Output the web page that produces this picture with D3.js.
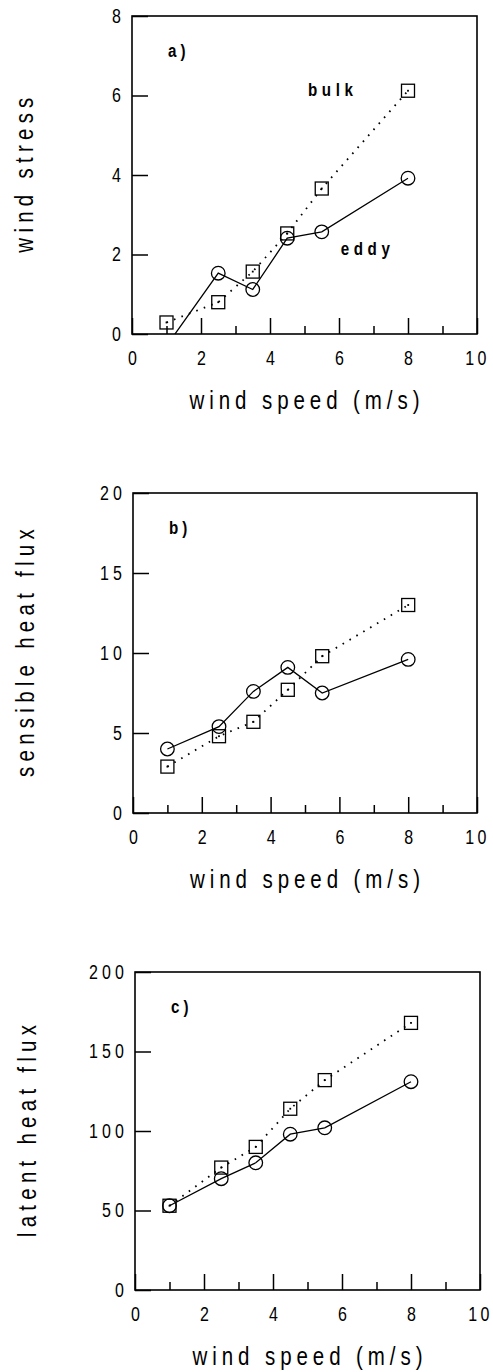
<!DOCTYPE html>
<html>
<head>
<meta charset="utf-8">
<script src="https://cdn.jsdelivr.net/npm/d3@7"></script>
<style>
  html, body { margin: 0; padding: 0; background: #fff; }
  svg { display: block; }
  text { font-family: "Liberation Sans", Arial, sans-serif; fill: #000; }
</style>
</head>
<body>
<svg id="chart" width="493" height="1372"></svg>
<script>
// ---- data ----
const windSpeed = [1, 2.5, 3.5, 4.5, 5.5, 8];

const stressBulk = [0.29, 0.80, 1.57, 2.53, 3.66, 6.12];
const stressEddy = [-0.30, 1.53, 1.12, 2.41, 2.57, 3.92];

const sensibleBulk = [2.9, 4.8, 5.7, 7.7, 9.8, 13.0];
const sensibleEddy = [4.0, 5.4, 7.6, 9.1, 7.5, 9.6];

const latentBulk = [53, 77, 90, 114, 132, 168];
const latentEddy = [53, 70, 80, 98, 102, 131];

const xTickValues = [0, 2, 4, 6, 8, 10];
const xMinorTicks = [1, 3, 5, 7, 9];
const stressTicks = [0, 2, 4, 6, 8];
const sensibleTicks = [0, 5, 10, 15, 20];
const latentTicks = [0, 50, 100, 150, 200];

const xTitle = "wind speed (m/s)";
const panelTitles = ["wind stress", "sensible heat flux", "latent heat flux"];
const panelLetters = ["a)", "b)", "c)"];
const seriesNames = ["bulk", "eddy"];

// ---- layout ----
const NARROW = 0.82;
const panels = [
  { left: 132, right: 477, top: 16,  bottom: 334,  bulk: stressBulk,   eddy: stressEddy,   ticks: stressTicks,   title: panelTitles[0], letter: panelLetters[0], legend: true },
  { left: 133, right: 477, top: 493, bottom: 813,  bulk: sensibleBulk, eddy: sensibleEddy, ticks: sensibleTicks, title: panelTitles[1], letter: panelLetters[1], legend: false },
  { left: 135, right: 480, top: 972, bottom: 1290, bulk: latentBulk,   eddy: latentEddy,   ticks: latentTicks,   title: panelTitles[2], letter: panelLetters[2], legend: false }
];

const svg = d3.select("#chart");

function narrowText(parent, x, y, txt, size, spacing, opts = {}) {
  const t = parent.append("text")
    .attr("transform", `translate(${x},${y})${opts.rotate ? " rotate(" + opts.rotate + ")" : ""} scale(${NARROW},1)`)
    .attr("font-size", size)
    .attr("letter-spacing", spacing + "px")
    .text(txt);
  if (opts.anchor) t.attr("text-anchor", opts.anchor);
  if (opts.bold) t.attr("font-weight", "bold");
  return t;
}

panels.forEach((p, i) => {
  const x = d3.scaleLinear().domain([0, 10]).range([p.left, p.right]);
  const y = d3.scaleLinear().domain([0, d3.max(p.ticks)]).range([p.bottom, p.top]);
  const g = svg.append("g");

  const clipId = "clip" + i;
  svg.append("clipPath").attr("id", clipId)
    .append("rect").attr("x", p.left).attr("y", p.top)
    .attr("width", p.right - p.left).attr("height", p.bottom - p.top);

  const tickFont = 19.5, tickSpace = 5;

  // x axis: major ticks (inside)
  const xAxis = g.append("g").attr("transform", `translate(0,${p.bottom})`)
    .call(d3.axisBottom(x).tickValues(xTickValues).tickFormat(d3.format("d"))
      .tickSizeInner(-16).tickSizeOuter(0).tickPadding(17));
  // x minor ticks
  const xMinor = g.append("g").attr("transform", `translate(0,${p.bottom})`)
    .call(d3.axisBottom(x).tickValues(xMinorTicks).tickFormat("")
      .tickSizeInner(-8).tickSizeOuter(0));
  // y axis
  const yAxis = g.append("g").attr("transform", `translate(${p.left},0)`)
    .call(d3.axisLeft(y).tickValues(p.ticks).tickFormat(d3.format("d"))
      .tickSizeInner(-16).tickSizeOuter(0).tickPadding(7));

  [xAxis, xMinor, yAxis].forEach(a => {
    a.attr("font-family", null).attr("font-size", null);
    a.select(".domain").remove();
    a.selectAll("line").attr("stroke", "#000").attr("stroke-width", 1.5);
    a.selectAll("text").attr("font-size", tickFont).attr("letter-spacing", tickSpace + "px")
      .style("fill", "#000").attr("transform", `scale(${NARROW},1)`);
  });
  xAxis.selectAll("text")
    .attr("dx", d => d === 10 ? "0px" : (tickSpace / 2) + "px")
    .attr("letter-spacing", d => d === 10 ? "4px" : tickSpace + "px");
  yAxis.selectAll("text").attr("x", -7 / NARROW);

  // frame
  g.append("rect")
    .attr("x", p.left).attr("y", p.top)
    .attr("width", p.right - p.left).attr("height", p.bottom - p.top)
    .attr("fill", "none").attr("stroke", "#000").attr("stroke-width", 1.6);

  const bulkPts = windSpeed.map((w, k) => [w, p.bulk[k]]);
  const eddyPts = windSpeed.map((w, k) => [w, p.eddy[k]]);
  const line = d3.line().x(d => x(d[0])).y(d => y(d[1]));

  const plot = g.append("g").attr("clip-path", `url(#${clipId})`);

  // bulk: dotted line
  plot.append("path").datum(bulkPts)
    .attr("d", line).attr("fill", "none").attr("stroke", "#000")
    .attr("stroke-width", 1.8).attr("stroke-dasharray", "1.6,6.4");
  // eddy: solid line
  plot.append("path").datum(eddyPts)
    .attr("d", line).attr("fill", "none").attr("stroke", "#000")
    .attr("stroke-width", 1.3);

  // squares
  const sq = 13;
  plot.selectAll("rect.sq").data(bulkPts).join("rect").attr("class", "sq")
    .attr("x", d => x(d[0]) - sq / 2).attr("y", d => y(d[1]) - sq / 2)
    .attr("width", sq).attr("height", sq)
    .attr("fill", "none").attr("stroke", "#000").attr("stroke-width", 1.3);
  plot.selectAll("rect.dot").data(bulkPts).join("rect").attr("class", "dot")
    .attr("x", d => x(d[0]) - 0.9).attr("y", d => y(d[1]) - 0.9)
    .attr("width", 1.8).attr("height", 1.8).attr("fill", "#000");

  // circles
  plot.selectAll("circle").data(eddyPts).join("circle")
    .attr("cx", d => x(d[0])).attr("cy", d => y(d[1])).attr("r", 6.8)
    .attr("fill", "none").attr("stroke", "#000").attr("stroke-width", 1.3);

  // panel letter
  narrowText(g, p.left + 36, p.top + 41, p.letter, 18.5, 5, { bold: true });

  if (p.legend) {
    narrowText(g, x(5.1), y(6.0), seriesNames[0], 18.5, 5.6, { bold: true });
    narrowText(g, x(6.05), y(1.98), seriesNames[1], 18.5, 5.6, { bold: true });
  }

  // x title
  narrowText(g, (p.left + p.right) / 2 + 2.5, p.bottom + 75, xTitle, 25, 6, { anchor: "middle" });

  // y title
  const cy = (p.top + p.bottom) / 2;
  narrowText(g, p.left - 99, cy - 2.5, p.title, 25, 6.4, { anchor: "middle", rotate: -90 });
});
</script>
</body>
</html>
